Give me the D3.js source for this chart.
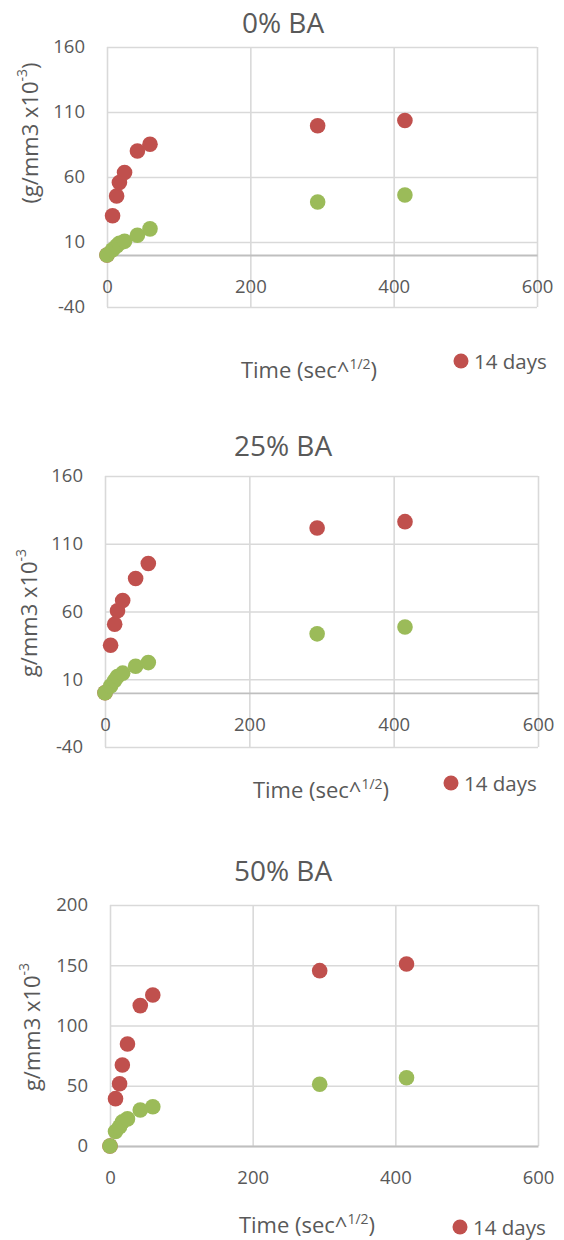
<!DOCTYPE html>
<html><head><meta charset="utf-8">
<script src="https://cdn.jsdelivr.net/npm/d3@7"></script>
<style>
body{margin:0;background:#fff;}
svg{display:block;font-family:"Open Sans",sans-serif;}
</style></head>
<body>
<svg id="c" width="564" height="1240"></svg>
<script>
// sqrt(time in seconds)
const timeSqrt = [0, 7.75, 13.42, 17.32, 24.49, 42.43, 60, 293.94, 415.69];
const red0   = [0, 30.2, 45.4, 55.7, 63.5, 80.0, 85.2, 99.4, 103.5];
const green0 = [0, 4, 7, 9, 10.5, 15.2, 20.1, 40.8, 46.2];
const red25   = [0, 35.1, 50.6, 60.5, 68.1, 84.3, 95.4, 121.6, 126.3];
const green25 = [0, 5, 9, 12, 14.5, 19.6, 22.3, 43.5, 48.6];
const red50   = [0, 39.3, 51.7, 67.2, 84.6, 116.5, 125.3, 145.5, 151.0];
const green50 = [0, 12, 16, 20, 22.5, 29.9, 32.6, 51.2, 56.7];
const xTicks = [0, 200, 400, 600];
const yTicksA = [-40, 10, 60, 110, 160];
const yTicksB = [0, 50, 100, 150, 200];
const titles = ["0% BA", "25% BA", "50% BA"];
const yTitles = [["(g/mm3 x10", "-3", ")"], ["g/mm3 x10", "-3", ""], ["g/mm3 x10", "-3", ""]];
const legendLabel = "14 days";

const RED = "#C0504D", GREEN = "#9BBB59", TXT = "#595959", GRID = "#d9d9d9", AXIS = "#bfbfbf";

const layouts = [
  {L:107, R:537, T:47,  B:307,  titleY:33,  yTitleX:29, yTitleY:133, xTitleX:309, xTitleY:378, legX:461, legY:361},
  {L:105, R:538, T:476, B:747,  titleY:456, yTitleX:28, yTitleY:613, xTitleX:321, xTitleY:798, legX:451, legY:783},
  {L:110, R:538, T:905, B:1146, titleY:881, yTitleX:31, yTitleY:1027, xTitleX:307, xTitleY:1233, legX:460, legY:1227}
];
const charts = [
  {red: red0, green: green0, yTicks: yTicksA},
  {red: red25, green: green25, yTicks: yTicksA},
  {red: red50, green: green50, yTicks: yTicksB}
];

const svg = d3.select("#c");
const fmt = d => String(d);

charts.forEach((c, i) => {
  const lay = layouts[i];
  const w = lay.R - lay.L, h = lay.B - lay.T;
  const x = d3.scaleLinear().domain([xTicks[0], xTicks[xTicks.length-1]]).range([0, w]);
  const y = d3.scaleLinear().domain([c.yTicks[0], c.yTicks[c.yTicks.length-1]]).range([h, 0]);
  const g = svg.append("g").attr("transform", `translate(${lay.L},${lay.T})`);

  // title
  svg.append("text").attr("x", 283).attr("y", lay.titleY).attr("text-anchor", "middle")
    .attr("font-size", 28).attr("fill", TXT).text(titles[i]);

  // horizontal gridlines + y labels
  const ya = g.append("g").call(d3.axisLeft(y).tickValues(c.yTicks).tickSize(-w).tickPadding(22).tickFormat(fmt));
  ya.select(".domain").remove();
  ya.selectAll("line").attr("stroke", GRID).attr("stroke-width", 1.6);
  ya.selectAll("text").attr("font-size", 18.5).attr("fill", TXT).attr("font-family", "Open Sans");

  // vertical gridlines
  const xg = g.append("g").attr("transform", `translate(0,${h})`)
    .call(d3.axisBottom(x).tickValues(xTicks).tickSize(-h).tickFormat(""));
  xg.select(".domain").remove();
  xg.selectAll("line").attr("stroke", GRID).attr("stroke-width", 1.6);

  // zero axis with labels
  const xa = g.append("g").attr("transform", `translate(0,${y(0)})`)
    .call(d3.axisBottom(x).tickValues(xTicks).tickSize(0).tickPadding(25).tickFormat(fmt));
  xa.select(".domain").attr("stroke", AXIS).attr("stroke-width", 1.8);
  xa.selectAll("text").attr("font-size", 18.5).attr("fill", TXT).attr("font-family", "Open Sans");

  // points
  g.append("g").selectAll("circle").data(c.red).join("circle")
    .attr("cx", (d, k) => x(timeSqrt[k])).attr("cy", d => y(d)).attr("r", 7.8).attr("fill", RED);
  g.append("g").selectAll("circle").data(c.green).join("circle")
    .attr("cx", (d, k) => x(timeSqrt[k])).attr("cy", d => y(d)).attr("r", 7.8).attr("fill", GREEN);

  // y title
  const yt = svg.append("text").attr("transform", `translate(${lay.yTitleX},${lay.yTitleY}) rotate(-90)`)
    .attr("text-anchor", "middle").attr("dominant-baseline", "central")
    .attr("font-size", 22).attr("fill", TXT);
  yt.append("tspan").text(yTitles[i][0]);
  yt.append("tspan").attr("font-size", 14).attr("dy", -8).text(yTitles[i][1]);
  if (yTitles[i][2]) yt.append("tspan").attr("dy", 8).text(yTitles[i][2]);

  // x title
  const xt = svg.append("text").attr("x", lay.xTitleX).attr("y", lay.xTitleY).attr("text-anchor", "middle")
    .attr("font-size", 22).attr("fill", TXT);
  xt.append("tspan").text("Time (sec^");
  xt.append("tspan").attr("font-size", 14).attr("dy", -9).text("1/2");
  xt.append("tspan").attr("dy", 9).text(")");

  // legend
  svg.append("circle").attr("cx", lay.legX).attr("cy", lay.legY).attr("r", 7.5).attr("fill", RED);
  svg.append("text").attr("x", lay.legX + 13).attr("y", lay.legY).attr("dominant-baseline", "central")
    .attr("font-size", 20.5).attr("fill", TXT).text(legendLabel);
});
</script>
</body></html>
